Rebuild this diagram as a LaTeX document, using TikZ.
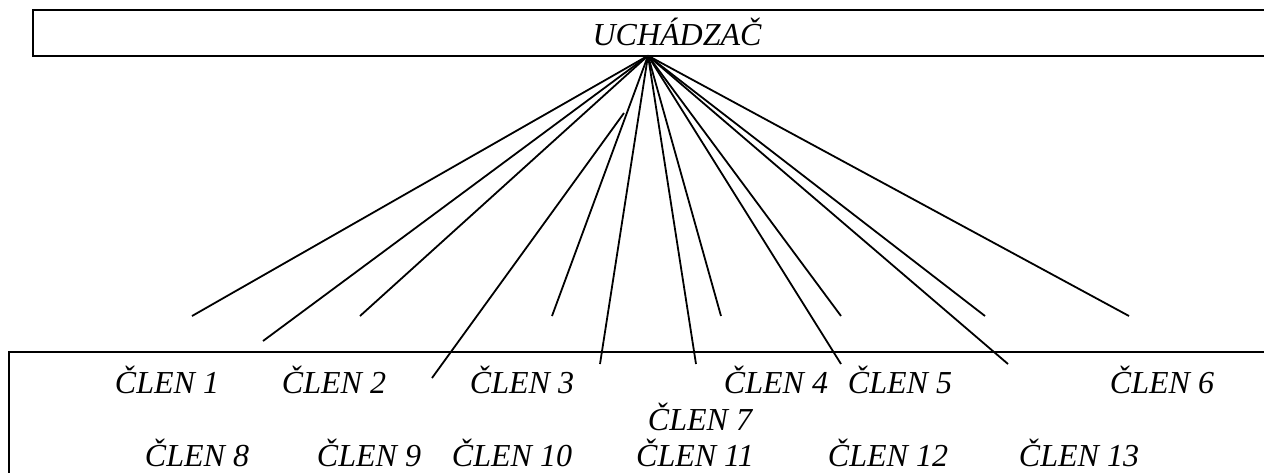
\documentclass[tikz,border=0pt]{standalone}
\usepackage{fontspec}
\setmainfont{Liberation Serif}
\begin{document}
\begin{tikzpicture}[x=1pt,y=-1pt,
  boxline/.style={draw=black,line width=2.4pt},
  link/.style={draw=black,line width=1.8pt},
  lbl/.style={inner sep=0pt,anchor=base,font=\fontsize{32}{38}\selectfont\itshape}]
\clip (0,0) rectangle (1264,472);
\fill[white] (0,0) rectangle (1264,472);
% boxes
\draw[boxline] (1280,10) -- (33,10) -- (33,55.7) -- (1280,55.7);
\draw[boxline] (1280,352) -- (9,352) -- (9,490);
\node[lbl] (cand) at (677,45) {UCHÁDZAČ};
% apex and free ends
\coordinate (apex) at (648,55.7);
\coordinate (s4) at (624,113);
\coordinate (e1) at (192,316);
\coordinate (e2) at (263,341);
\coordinate (e3) at (360,316);
\coordinate (e4) at (432,378);
\coordinate (e5) at (552,316);
\coordinate (e6) at (600,364);
\coordinate (e7) at (696,364);
\coordinate (e8) at (721,316);
\coordinate (e9) at (841,364);
\coordinate (e10) at (841,316);
\coordinate (e11) at (985,316);
\coordinate (e12) at (1008,364);
\coordinate (e13) at (1129,316);
\foreach \i in {1,2,3,5,6,7,8,9,10,11,12,13}{\draw[link] (apex) -- (e\i);}
\draw[link] (s4) -- (e4);
% members
\node[lbl] (m1) at (167,393) {ČLEN 1};
\node[lbl] (m2) at (334,393) {ČLEN 2};
\node[lbl] (m3) at (522,393) {ČLEN 3};
\node[lbl] (m4) at (776,393) {ČLEN 4};
\node[lbl] (m5) at (900,393) {ČLEN 5};
\node[lbl] (m6) at (1162,393) {ČLEN 6};
\node[lbl] (m7) at (700,430) {ČLEN 7};
\node[lbl] (m8) at (197,466) {ČLEN 8};
\node[lbl] (m9) at (369,466) {ČLEN 9};
\node[lbl] (m10) at (512,466) {ČLEN 10};
\node[lbl] (m11) at (695,466) {ČLEN 11};
\node[lbl] (m12) at (888,466) {ČLEN 12};
\node[lbl] (m13) at (1079,466) {ČLEN 13};
\end{tikzpicture}
\end{document}
